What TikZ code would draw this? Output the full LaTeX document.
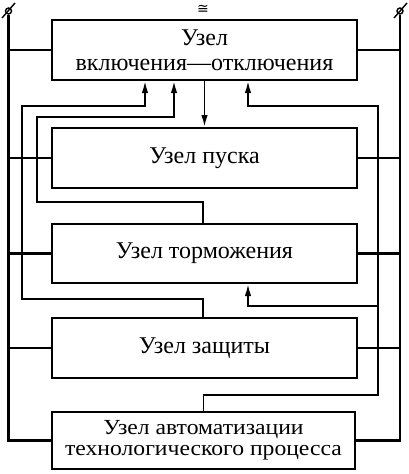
\documentclass[tikz,border=0pt]{standalone}
\usepackage{fontspec}
\setmainfont{Liberation Serif}
\newfontfamily\widefont[FakeStretch=1.1]{Liberation Serif}
\newfontfamily\symfont{DejaVu Sans}
\usetikzlibrary{arrows.meta,calc}
\begin{document}
\begin{tikzpicture}[x=1pt,y=-1pt,
  blk/.style={draw,line width=2pt,minimum width=305pt,minimum height=60pt,inner sep=0pt,align=center,font=\fontsize{24}{25}\selectfont},
  bus/.style={line width=2.2pt},
  fb/.style={line width=1.8pt},
  arr/.style={fb,-{Latex[length=12pt,width=6.5pt]}},
  term/.style={circle,draw,line width=1.4pt,inner sep=0pt,minimum size=6pt}]
\useasboundingbox (0,0) rectangle (408,474);
\node[blk] (b1) at (204.5,50) {Узел\\включения—отключения};
\node[blk] (b2) at (204.5,158) {Узел пуска};
\node[blk,minimum height=59pt] (b3) at (204.5,253.5) {Узел торможения};
\node[blk] (b4) at (204.5,348) {Узел защиты};
\node[blk,minimum width=303pt,minimum height=57pt,font=\widefont\fontsize{21.5}{21}\selectfont] (b5) at (203.5,440.5) {Узел автоматизации\\технологического процесса};
\node[term] (tl) at (8.5,11) {};
\node[term] (tr) at (400,11) {};
\draw[line width=1.4pt] (2,18) -- (15,3);
\draw[line width=1.4pt] (394,18) -- (407,3);
\node[inner sep=0pt,font=\symfont\fontsize{14}{14}\selectfont] (ac) at (203,9) {≅};
% buses
\draw[bus] (tl.south) -- (tl |- b5.west) -- (b5.west);
\draw[bus] (tr.south) -- (tr |- b5.east) -- (b5.east);
\foreach \b in {b1,b2,b3,b4}{
  \draw[bus] (\b.west) -- (\b.west -| tl);
  \draw[bus] (\b.east) -- (\b.east -| tr);
}
% feedback lines
\draw[arr] ([xshift=-1.5pt]b4.north) -- ++(0,-18) -| (22,106) -| ([xshift=-59.5pt]b1.south);
\draw[arr] ([xshift=-1.5pt]b3.north) -- ++(0,-21) -| (37,117) -| ([xshift=-30.5pt]b1.south);
\draw[arr] (b1.south) -- (b2.north);
\draw[fb] (b5.north) -- ++(0,-16) -| (378,306);
\draw[arr] (378,306) |- (315,106) -| ([xshift=43.5pt]b1.south);
\draw[arr] (378,306) -- (248,306) -- ([xshift=43.5pt]b3.south);
\end{tikzpicture}
\end{document}
